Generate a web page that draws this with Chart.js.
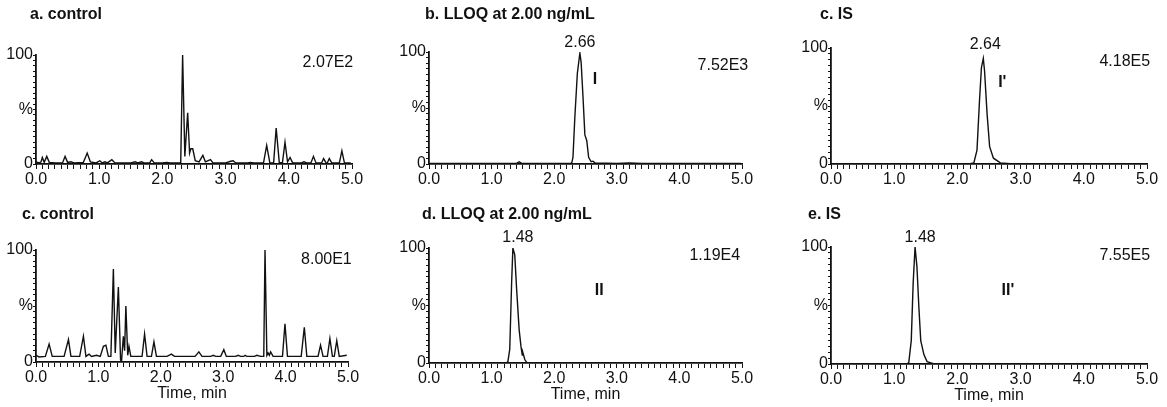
<!DOCTYPE html>
<html>
<head>
<meta charset="utf-8">
<script src="https://cdn.jsdelivr.net/npm/chart.js@4.4.1/dist/chart.umd.min.js"></script>
<style>
  body { margin: 0; background: #fff; }
  #wrap { position: relative; width: 1167px; height: 407px; overflow: hidden; }
  #wrap canvas { position: absolute; }
</style>
</head>
<body>
<div id="wrap"></div>
<script>
// panel texts
const titles = ['a. control', 'b. LLOQ at 2.00 ng/mL', 'c. IS', 'c. control', 'd. LLOQ at 2.00 ng/mL', 'e. IS'];
const scaleFactors = ['2.07E2', '7.52E3', '4.18E5', '8.00E1', '1.19E4', '7.55E5'];
const peakTimes = ['2.66', '2.64', '1.48', '1.48'];
const peakNames = ['I', "I'", 'II', "II'"];
const xTickLabels = ['0.0', '1.0', '2.0', '3.0', '4.0', '5.0'];
const yTickLabels = { 0: '0', 50: '%', 100: '100' };

// traces: [time (min), relative intensity (%)]
const traceA = [[0,2],[0.05,1],[0.08,2],[0.10,6],[0.13,1.5],[0.17,7],[0.21,1.5],[0.30,1],[0.42,1],[0.46,7],[0.50,1.5],
  [0.55,2],[0.60,1],[0.75,1.5],[0.81,10],[0.86,2],[0.95,1],[1.01,3],[1.05,1],[1.09,2],[1.13,1],[1.20,4],[1.25,1],
  [1.50,1],[1.57,2],[1.61,1],[1.67,2],[1.71,1],[1.80,1],[1.83,4],[1.87,1],[2.00,1],[2.07,1.5],[2.12,1],[2.29,1],
  [2.32,100],[2.355,7],[2.40,47],[2.43,10],[2.45,14],[2.48,14],[2.52,3],[2.58,2],[2.64,8],[2.68,2],[2.76,4],[2.80,1],
  [3.00,1],[3.08,2.5],[3.12,3],[3.16,1],[3.35,1],[3.39,1.5],[3.45,1],[3.60,1],[3.65,17],[3.70,1],[3.76,1],[3.80,33],
  [3.85,1],[3.90,1.5],[3.94,20],[3.98,2],[4.02,6],[4.06,1],[4.20,1],[4.24,2],[4.28,1],[4.35,1],[4.39,7],[4.43,1],
  [4.52,1],[4.55,5],[4.59,1],[4.61,1],[4.64,5],[4.68,1],[4.80,1],[4.84,12],[4.88,1],[4.98,1]];

const traceB = [[0,0.5],[1.0,0.5],[1.40,0.5],[1.44,2],[1.48,0.5],[2.26,0.5],[2.28,1],[2.30,6],[2.33,42],[2.37,81],
  [2.41,99],[2.43,91],[2.46,60],[2.49,26],[2.52,21],[2.55,6],[2.59,2],[2.62,2.5],[2.65,1],[3.0,0.5],[3.2,1],[3.4,0.5],[4.98,0.5]];

const traceIS1 = [[0,0.3],[2.20,0.3],[2.26,1],[2.31,12],[2.35,55],[2.38,83],[2.41,91],[2.43,80],[2.47,43],[2.51,15],
  [2.57,5],[2.68,1],[2.84,0.3],[4.98,0.3]];

const traceC = [[0,6],[0.05,4.5],[0.15,5],[0.21,16],[0.26,5],[0.45,5],[0.52,20],[0.56,5],[0.70,5],[0.76,23],[0.80,5],
  [0.85,7],[0.89,5],[0.97,6],[1.03,5],[1.08,14],[1.12,15],[1.16,5],[1.20,5],[1.24,83],[1.27,8],[1.32,67],[1.355,2],
  [1.37,0],[1.40,23],[1.42,10],[1.44,50],[1.47,6],[1.49,14],[1.52,5],[1.70,5],[1.74,25],[1.78,5],[1.85,5],[1.89,18],
  [1.93,5],[2.10,5],[2.17,7],[2.22,5],[2.55,5],[2.61,9],[2.66,5],[2.80,5],[2.84,6],[2.88,5],[2.96,5],[3.01,11],[3.05,5],
  [3.20,5],[3.24,6],[3.28,5],[3.33,5],[3.35,6],[3.38,5],[3.50,5],[3.54,6],[3.60,5],[3.65,5],[3.67,100],[3.70,6],
  [3.72,8],[3.74,6],[3.76,9],[3.80,5],[3.95,5],[3.99,34],[4.03,5],[4.25,5],[4.30,31],[4.34,5],[4.52,5],[4.56,15],
  [4.60,5],[4.67,5],[4.71,21],[4.75,5],[4.78,5],[4.82,19],[4.86,5],[4.98,6]];

const traceD = [[0,0.3],[1.24,0.3],[1.26,1],[1.29,12],[1.32,70],[1.34,100],[1.37,94],[1.40,64],[1.44,29],[1.47,14],
  [1.49,7],[1.50,9],[1.53,3],[1.56,0.5],[4.98,0.3]];

const traceIS2 = [[0,0.3],[1.20,0.3],[1.23,1],[1.27,20],[1.30,69],[1.33,100],[1.36,83],[1.39,49],[1.42,20],[1.47,8],
  [1.52,2],[1.62,0.3],[4.98,0.3]];

const FONT = '"Liberation Sans", Arial, sans-serif';
Chart.defaults.font.family = FONT;
Chart.defaults.font.size = 16;
Chart.defaults.color = '#111';

// layout of the 6 panels (cell box + plot area in page px)
const panels = [
  { trace: traceA, cell: [0, 0, 390, 200], area: [36, 352, 55, 164], title: [30, 15],
    tags: [{ text: scaleFactors[0], x: 5.02, y: 93, align: 'right' }] },
  { trace: traceB, cell: [390, 0, 390, 200], area: [429, 742, 52, 164], title: [35, 15],
    tags: [{ text: peakTimes[0], x: 2.41, y: 108 }, { text: peakNames[0], x: 2.65, y: 75, bold: true },
           { text: scaleFactors[1], x: 5.10, y: 88, align: 'right' }] },
  { trace: traceIS1, cell: [780, 0, 387, 200], area: [831, 1147, 48, 164], title: [40, 15],
    tags: [{ text: peakTimes[1], x: 2.44, y: 103 }, { text: peakNames[1], x: 2.71, y: 70, bold: true },
           { text: scaleFactors[2], x: 5.05, y: 88, align: 'right' }] },
  { trace: traceC, cell: [0, 200, 390, 207], area: [36, 348, 250, 362], title: [22, 15], xTitle: true,
    tags: [{ text: scaleFactors[3], x: 5.06, y: 91, align: 'right' }] },
  { trace: traceD, cell: [390, 200, 390, 207], area: [429, 742, 248, 363], title: [32, 15], xTitle: true,
    tags: [{ text: peakTimes[2], x: 1.42, y: 109 }, { text: peakNames[2], x: 2.72, y: 63, bold: true },
           { text: scaleFactors[4], x: 4.97, y: 93, align: 'right' }] },
  { trace: traceIS2, cell: [780, 200, 387, 207], area: [831, 1147, 247, 364], title: [28, 15], xTitle: true,
    tags: [{ text: peakTimes[3], x: 1.41, y: 108 }, { text: peakNames[3], x: 2.80, y: 63, bold: true },
           { text: scaleFactors[5], x: 5.05, y: 93, align: 'right' }] }
];

// texts drawn on top: panel title, retention times, peak names, scale factor
const tagPlugin = {
  id: 'tags',
  afterDatasetsDraw(chart, args, opts) {
    const { ctx } = chart;
    const { x, y } = chart.scales;
    ctx.save();
    ctx.fillStyle = '#111';
    ctx.textBaseline = 'middle';
    ctx.font = 'bold 16px ' + FONT;
    ctx.textAlign = 'left';
    ctx.fillText(opts.title, opts.titlePos[0], opts.titlePos[1]);
    opts.tags.forEach(t => {
      ctx.font = (t.bold ? 'bold ' : '') + '16px ' + FONT;
      ctx.textAlign = t.align || 'center';
      ctx.fillText(t.text, x.getPixelForValue(t.x), y.getPixelForValue(t.y));
    });
    ctx.restore();
  }
};

const wrap = document.getElementById('wrap');
const Y_W = 34;

panels.forEach((p, i) => {
  const [cl, ct, cw, ch] = p.cell;
  const [L, R, T, B] = p.area;
  const xH = p.xTitle ? 41 : 22;
  const canvas = document.createElement('canvas');
  canvas.width = cw; canvas.height = ch;
  canvas.style.left = cl + 'px'; canvas.style.top = ct + 'px';
  wrap.appendChild(canvas);

  new Chart(canvas, {
    type: 'line',
    data: {
      datasets: [{
        data: p.trace.map(([t, v]) => ({ x: t, y: v })),
        borderColor: '#111',
        borderWidth: 1.4,
        pointRadius: 0,
        tension: 0,
        fill: false
      }]
    },
    options: {
      responsive: false,
      animation: false,
      devicePixelRatio: 1,
      layout: { padding: { left: L - cl - Y_W, right: cl + cw - R, top: T - ct, bottom: ct + ch - B - xH } },
      plugins: {
        legend: { display: false },
        tooltip: { enabled: false },
        tags: { title: titles[i], titlePos: p.title, tags: p.tags }
      },
      scales: {
        x: {
          type: 'linear', min: 0, max: 5,
          afterFit: s => { s.height = xH; },
          grid: { drawOnChartArea: false, tickLength: 5, tickColor: '#111', tickWidth: 1 },
          border: { display: true, color: '#111', width: 1.8 },
          ticks: {
            stepSize: 0.1, autoSkip: false, maxRotation: 0, padding: 1,
            callback: v => {
              const k = Math.round(v);
              return Math.abs(v - k) < 1e-6 ? xTickLabels[k] : '';
            }
          },
          title: { display: !!p.xTitle, text: 'Time, min', padding: 0, font: { size: 16 } }
        },
        y: {
          min: 0, max: 100,
          afterFit: s => { s.width = Y_W; },
          grid: { drawOnChartArea: false, tickLength: 3, tickColor: '#111', tickWidth: 1 },
          border: { display: true, color: '#111', width: 1.8 },
          ticks: {
            stepSize: 5, autoSkip: false, padding: 0,
            callback: v => (yTickLabels[v] !== undefined ? yTickLabels[v] : '')
          }
        }
      }
    },
    plugins: [tagPlugin]
  });
});
</script>
</body>
</html>
